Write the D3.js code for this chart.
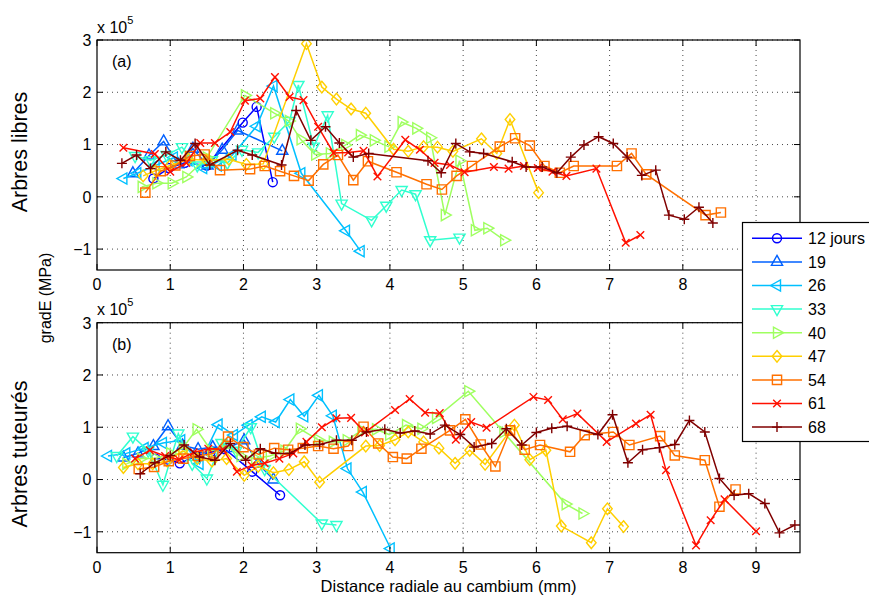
<!DOCTYPE html>
<html><head><meta charset="utf-8">
<script src="https://cdn.jsdelivr.net/npm/d3@7"></script>
<style>body{margin:0;background:#fff}svg{display:block}text{font-family:"Liberation Sans",Arial,Helvetica,sans-serif;fill:#000}</style>
</head><body><svg id="c" width="869" height="596"></svg>
<script>
// ---- data ----
const seriesNames = ["12 jours","19","26","33","40","47","54","61","68"];
const xTicks = [0,1,2,3,4,5,6,7,8,9];
const yTicks = [-1,0,1,2,3];

// Panel (a) : Arbres libres (values in 1e5 MPa)
const a12x = [0.77,0.98,1.2,1.5,1.99,2.18,2.40];
const a12y = [0.35,0.55,0.65,0.6,1.42,1.72,0.28];
const a19x = [0.49,0.71,0.91,1.11,1.31,1.51,1.71,1.92,2.53];
const a19y = [0.45,0.79,1.06,0.62,0.92,0.6,0.9,1.27,0.88];
const a26x = [0.36,0.55,0.8,1.05,1.25,1.45,1.65,1.85,2.18,2.41,2.79,3.40,3.60];
const a26y = [0.35,0.45,0.6,0.75,0.7,0.55,0.6,0.8,1.35,2.12,0.45,-0.65,-1.04];
const a33x = [0.52,0.73,0.95,1.16,1.37,1.57,1.78,1.98,2.2,2.42,2.63,2.75,2.96,3.15,3.34,3.75,3.95,4.16,4.35,4.55,4.95];
const a33y = [0.78,0.7,0.8,0.95,0.6,0.7,0.65,0.9,0.85,1.15,1.45,2.14,0.96,1.56,-0.13,-0.45,-0.17,0.13,0.05,-0.83,-0.78];
const a40x = [0.61,0.81,1.02,1.22,1.5,2.02,2.42,2.62,2.78,2.98,3.18,3.39,3.59,3.78,3.98,4.16,4.36,4.55,4.75,4.95,5.16,5.33,5.56];
const a40y = [0.19,0.26,0.26,0.38,0.75,1.94,1.6,1.45,1.1,0.81,0.83,0.99,1.18,1.08,0.96,1.43,1.31,1.13,-0.35,0.69,-0.64,-0.6,-0.83];
const a47x = [0.63,0.8,1.0,1.25,1.5,1.8,2.04,2.27,2.86,3.07,3.27,3.47,3.67,4.05,4.25,4.46,4.65,4.86,5.25,5.46,5.64,6.03];
const a47y = [0.4,0.5,0.6,0.72,0.7,0.72,0.62,0.63,2.93,2.1,1.87,1.68,1.6,0.91,0.87,0.96,0.95,0.87,1.11,0.83,1.48,0.08];
const a54x = [0.66,0.87,1.07,1.27,1.47,1.68,2.09,2.29,2.50,2.69,2.89,3.09,3.29,3.50,3.70,4.09,4.50,4.71,4.91,5.12,5.50,5.71,5.91,6.11,6.32,6.51,7.10,7.30,7.50,8.31,8.52];
const a54y = [0.08,0.49,0.6,0.78,0.81,0.51,0.53,0.59,0.49,0.4,0.31,0.62,0.8,0.32,0.68,0.47,0.24,0.14,0.4,0.59,0.96,1.12,0.98,0.59,0.46,0.59,0.59,0.83,0.43,-0.35,-0.3];
const a61x = [0.36,0.79,1.0,1.22,1.41,1.61,1.82,2.02,2.23,2.43,2.63,2.82,3.02,3.23,3.43,3.64,3.83,4.21,4.41,4.61,4.82,5.02,5.42,5.62,5.83,6.02,6.22,6.41,6.82,7.22,7.42];
const a61y = [0.94,0.82,0.48,0.65,1.03,1.03,1.24,1.84,1.88,2.29,1.91,1.85,1.34,0.84,0.85,0.88,0.39,1.09,0.9,0.65,0.61,0.47,0.57,0.54,0.59,0.55,0.48,0.4,0.54,-0.88,-0.73];
const a68x = [0.34,0.54,0.73,0.94,1.14,1.34,1.54,1.92,2.12,2.52,2.72,2.92,3.12,3.31,3.50,3.71,4.52,4.70,4.90,5.09,5.28,5.67,5.86,6.08,6.28,6.47,6.65,6.85,7.05,7.24,7.44,7.63,7.81,8.02,8.22,8.41];
const a68y = [0.64,0.8,0.54,0.86,0.7,1.02,0.61,0.89,0.8,0.61,1.65,1.08,1.34,1.03,0.76,0.83,0.69,0.46,1.02,0.86,0.83,0.67,0.57,0.57,0.46,0.76,0.99,1.15,1.02,0.76,0.41,0.51,-0.35,-0.43,-0.2,-0.5];

// Panel (b) : Arbres tuteurés
const b12x = [0.8,0.97,1.13,1.35,1.55,1.75,2.12,2.5];
const b12y = [0.4,0.38,0.31,0.45,0.52,0.58,0.15,-0.3];
const b19x = [0.36,0.56,0.77,0.97,1.17,1.38,1.58,1.78,2.01,2.2,2.41];
const b19y = [0.42,0.5,0.64,1.02,0.65,0.58,0.62,0.6,0.75,0.3,0.0];
const b26x = [0.15,0.4,0.65,0.9,1.15,1.4,1.66,1.87,2.07,2.25,2.44,2.64,2.83,3.03,3.22,3.42,3.63,4.01];
const b26y = [0.45,0.5,0.6,0.7,0.75,0.3,1.05,0.85,1.04,1.2,1.1,1.53,1.21,1.61,1.22,0.21,-0.24,-1.32];
const b33x = [0.27,0.49,0.7,0.9,1.11,1.3,1.5,1.7,1.9,2.1,2.29,3.07,3.27];
const b33y = [0.45,0.82,0.55,-0.1,0.88,0.3,0.02,0.7,0.55,1.0,0.2,-0.84,-0.87];
const b40x = [0.4,0.6,0.8,1.0,1.17,1.36,1.56,1.76,1.96,2.16,2.36,2.56,2.77,3.02,3.22,3.41,3.61,3.81,3.99,4.22,4.43,4.63,5.07,5.55,6.40,6.63];
const b40y = [0.3,0.4,0.4,0.5,0.6,0.96,0.55,0.65,0.45,0.4,0.45,0.55,0.97,0.76,0.72,0.75,0.94,0.96,0.86,1.04,0.97,1.18,1.69,0.91,-0.47,-0.65];
const b47x = [0.36,0.56,0.76,0.96,1.17,1.37,1.57,1.77,2.01,2.2,2.41,2.62,2.83,3.04,3.67,3.86,4.07,4.25,4.46,4.67,4.89,5.09,5.30,5.70,5.91,6.13,6.34,6.75,6.97,7.19];
const b47y = [0.23,0.3,0.3,0.35,0.55,0.4,0.35,0.4,0.08,0.25,0.13,0.19,0.34,-0.05,0.64,0.65,0.76,0.91,0.72,0.6,0.31,0.56,0.29,1.04,0.38,0.56,-0.89,-1.21,-0.56,-0.9];
const b54x = [0.57,0.78,0.98,1.18,1.38,1.59,1.79,2.0,2.21,2.42,2.61,2.81,3.02,3.23,3.43,3.64,3.84,4.04,4.23,4.43,4.82,5.03,5.24,5.44,5.64,5.84,6.05,6.46,6.66,7.05,7.27,7.69,7.89,8.30,8.50,8.72];
const b54y = [0.2,0.24,0.35,0.4,0.45,0.5,0.82,0.62,0.48,0.6,0.57,0.6,0.64,0.59,0.64,1.01,0.69,0.43,0.4,0.59,0.94,1.15,0.67,0.25,0.94,0.57,0.66,0.53,0.85,0.91,0.66,0.83,0.46,0.37,-0.52,-0.19];
const b61x = [0.52,0.72,0.93,1.12,1.32,1.52,1.72,1.91,2.11,2.29,2.49,2.68,2.86,3.07,3.27,3.47,3.66,4.07,4.27,4.48,4.68,4.90,5.11,5.32,5.96,6.16,6.36,6.56,6.96,7.36,7.56,7.77,8.18,8.38,8.57,9.0];
const b61y = [0.4,0.56,0.45,0.38,0.52,0.59,0.58,0.15,0.27,0.31,0.4,0.5,0.72,1.0,1.17,1.18,0.9,1.33,1.54,1.28,1.27,0.76,1.1,0.99,1.58,1.52,1.15,1.26,0.72,1.07,1.24,0.18,-1.26,-0.78,-0.38,-0.99];
const b68x = [0.59,0.79,1.0,1.19,1.40,1.61,1.82,2.03,2.23,2.44,2.63,2.84,3.04,3.27,3.48,3.68,3.93,4.14,4.34,4.55,4.75,4.96,5.15,5.39,5.59,5.80,6.0,6.21,6.42,6.84,7.04,7.25,7.45,7.68,7.89,8.09,8.30,8.50,8.70,8.90,9.12,9.32,9.53];
const b68y = [0.11,0.32,0.46,0.66,0.43,0.37,0.69,0.37,0.59,0.5,0.5,0.66,0.67,0.75,0.75,0.91,0.96,0.89,0.93,0.87,1.04,0.86,0.62,0.69,0.97,0.66,0.9,0.98,1.02,0.86,1.24,0.32,0.57,0.61,0.67,1.13,0.91,0.02,-0.3,-0.27,-0.46,-1.02,-0.87];

// ---- styles ----
const colors = ["#0000ff","#0060ff","#00c0ff","#30ffcf","#9fff60","#ffcf00","#ff7000","#ff1000","#800000"];
const markers = ["circle","triUp","triLeft","triDown","triRight","diamond","square","x","plus"];

const panelA = [[a12x,a12y],[a19x,a19y],[a26x,a26y],[a33x,a33y],[a40x,a40y],[a47x,a47y],[a54x,a54y],[a61x,a61y],[a68x,a68y]];
const panelB = [[b12x,b12y],[b19x,b19y],[b26x,b26y],[b33x,b33y],[b40x,b40y],[b47x,b47y],[b54x,b54y],[b61x,b61y],[b68x,b68y]];

const svg = d3.select("#c");
const L = 97, R = 800;
const x = d3.scaleLinear().domain([0,9.6]).range([L,R]);

function markerPath(t){
  switch(t){
    case "circle": return d3.symbol(d3.symbolCircle,64)();
    case "triUp": return "M0,-6.5L5.6,3.5L-5.6,3.5Z";
    case "triDown": return "M0,6.5L5.6,-3.5L-5.6,-3.5Z";
    case "triLeft": return "M-6.5,0L3.5,-5.6L3.5,5.6Z";
    case "triRight": return "M6.5,0L-3.5,-5.6L-3.5,5.6Z";
    case "diamond": return "M0,-5.8L4.8,0L0,5.8L-4.8,0Z";
    case "square": return "M-4.6,-4.6H4.6V4.6H-4.6Z";
    case "x": return "M-3.8,-3.8L3.8,3.8M-3.8,3.8L3.8,-3.8";
    case "plus": return "M-5,0H5M0,-5V5";
  }
}

function drawPanel(top, bottom, data, label, id){
  const y = d3.scaleLinear().domain([-1.4,3]).range([bottom,top]);
  const g = svg.append("g");
  const grid = g.append("g").attr("stroke","#333").attr("stroke-width",0.9).attr("stroke-dasharray","1,4");
  xTicks.filter(t=>t>0).forEach(t=>grid.append("line").attr("x1",x(t)).attr("x2",x(t)).attr("y1",top).attr("y2",bottom));
  yTicks.forEach(t=>grid.append("line").attr("x1",L).attr("x2",R).attr("y1",y(t)).attr("y2",y(t)));
  svg.append("clipPath").attr("id",id).append("rect").attr("x",L).attr("y",top).attr("width",R-L).attr("height",bottom-top);
  const plot = g.append("g").attr("clip-path",`url(#${id})`);
  const line = d3.line().x(d=>x(d[0])).y(d=>y(d[1]));
  data.forEach((s,i)=>{
    const pts = s[0].map((v,k)=>[v,s[1][k]]);
    plot.append("path").attr("d",line(pts)).attr("fill","none").attr("stroke",colors[i]).attr("stroke-width",1.5);
    plot.selectAll(null).data(pts).enter().append("path")
      .attr("transform",d=>`translate(${x(d[0])},${y(d[1])})`)
      .attr("d",markerPath(markers[i])).attr("fill","none").attr("stroke",colors[i]).attr("stroke-width",1.4);
  });
  const ax = g.append("g");
  ax.append("rect").attr("x",L).attr("y",top).attr("width",R-L).attr("height",bottom-top).attr("fill","none").attr("stroke","#000").attr("stroke-width",1.2);
  const tl = 6;
  xTicks.forEach(t=>{
    ax.append("line").attr("x1",x(t)).attr("x2",x(t)).attr("y1",bottom).attr("y2",bottom-tl).attr("stroke","#000");
    ax.append("line").attr("x1",x(t)).attr("x2",x(t)).attr("y1",top).attr("y2",top+tl).attr("stroke","#000");
    ax.append("text").attr("x",x(t)).attr("y",bottom+20).attr("text-anchor","middle").attr("font-size",16).text(t);
  });
  yTicks.forEach(t=>{
    ax.append("line").attr("x1",L).attr("x2",L+tl).attr("y1",y(t)).attr("y2",y(t)).attr("stroke","#000");
    ax.append("line").attr("x1",R).attr("x2",R-tl).attr("y1",y(t)).attr("y2",y(t)).attr("stroke","#000");
    ax.append("text").attr("x",L-5.5).attr("y",y(t)+5.8).attr("text-anchor","end").attr("font-size",16).text(d3.format("")(t));
  });
  const ex = ax.append("text").attr("x",L).attr("y",top-7.5).attr("font-size",16);
  ex.append("tspan").text("x 10");
  ex.append("tspan").attr("dy",-9).attr("font-size",11).text("5");
  ax.append("text").attr("x",112).attr("y",top+27).attr("font-size",16).text(label);
  return y;
}

drawPanel(40,270,panelA,"(a)","clipA");
drawPanel(322.7,552.7,panelB,"(b)","clipB");

svg.append("text").attr("transform","translate(27,152) rotate(-90)").attr("text-anchor","middle").attr("font-size",21.5).text("Arbres libres");
svg.append("text").attr("transform","translate(27,454) rotate(-90)").attr("text-anchor","middle").attr("font-size",21.5).text("Arbres tuteurés");
svg.append("text").attr("transform","translate(51,298) rotate(-90)").attr("text-anchor","middle").attr("font-size",16).text("gradE (MPa)");
svg.append("text").attr("x",448.5).attr("y",592).attr("text-anchor","middle").attr("font-size",16.5).text("Distance radiale au cambium (mm)");

const lg = svg.append("g");
lg.append("rect").attr("x",742.5).attr("y",222.5).attr("width",140).attr("height",219).attr("fill","#fff").attr("stroke","#000").attr("stroke-width",1.2);
seriesNames.forEach((n,i)=>{
  const yy = 238.3 + i*23.6;
  lg.append("line").attr("x1",752).attr("x2",802).attr("y1",yy).attr("y2",yy).attr("stroke",colors[i]).attr("stroke-width",1.5);
  lg.append("path").attr("transform",`translate(777,${yy})`).attr("d",markerPath(markers[i])).attr("fill","none").attr("stroke",colors[i]).attr("stroke-width",1.4);
  lg.append("text").attr("x",808).attr("y",yy+5.8).attr("font-size",16).text(n);
});
</script></body></html>
